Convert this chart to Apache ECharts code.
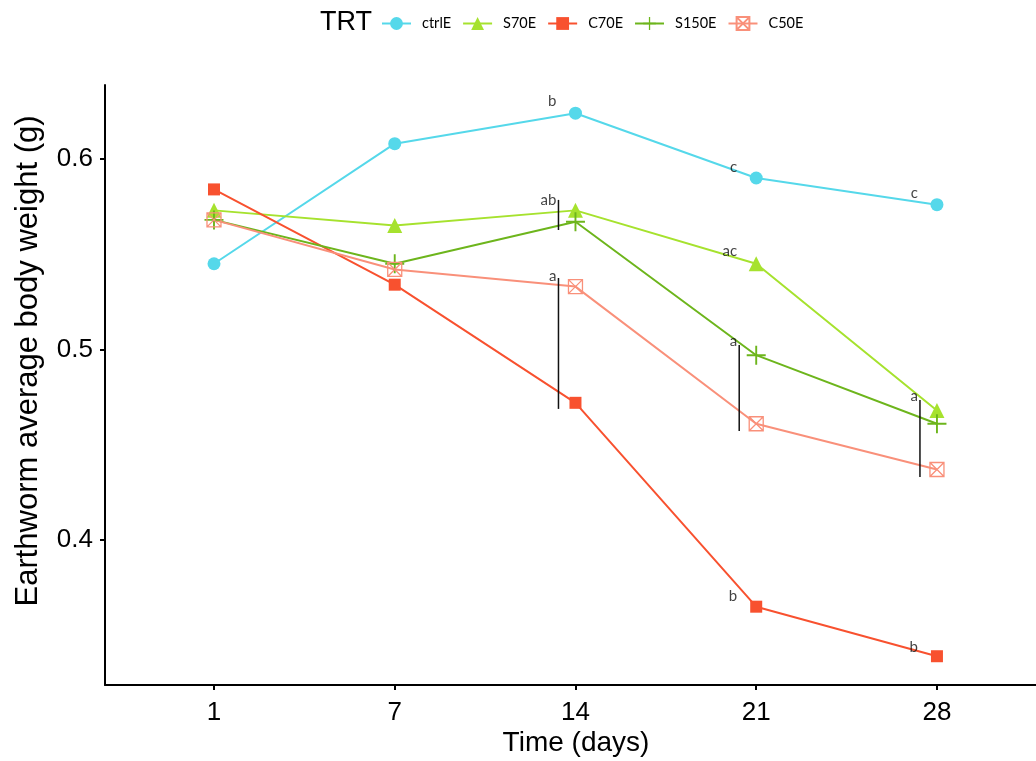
<!DOCTYPE html>
<html>
<head>
<meta charset="utf-8">
<script src="https://cdn.jsdelivr.net/npm/echarts@6/dist/echarts.min.js"></script>
<style>
  html, body { margin: 0; padding: 0; background: #fff; }
  #main { width: 1036px; height: 761px; }
</style>
</head>
<body>
<div id="main"></div>
<script>
var days = ['1', '7', '14', '21', '28'];
var ctrlE = [0.545, 0.608, 0.624, 0.590, 0.576];
var s70E = [0.573, 0.565, 0.573, 0.545, 0.468];
var c70E = [0.584, 0.534, 0.472, 0.365, 0.339];
var s150E = [0.568, 0.545, 0.567, 0.497, 0.461];
var c50E = [0.568, 0.542, 0.533, 0.461, 0.437];

// significance letters: day index, height, text
var letterDay = [2, 2, 2, 3, 3, 3, 3, 4, 4, 4];
var letterY = [0.6304, 0.5785, 0.5386, 0.5958, 0.5517, 0.5045, 0.3706, 0.5822, 0.4756, 0.3438];
var letterText = ['b', 'ab', 'a', 'c', 'ac', 'a', 'b', 'c', 'a', 'b'];

// black range bars: day index, low, high
var barDay = [2, 2, 3, 4];
var barLow = [0.5627, 0.4688, 0.4572, 0.4331];
var barHigh = [0.5785, 0.5375, 0.5024, 0.4735];

var chart = echarts.init(document.getElementById('main'));

function pts(arr) {
  return arr.map(function (v, i) { return [i, v]; });
}

var plusPath = 'path://M0,4.5 H10 V5.5 H0 Z M4.5,0 H5.5 V10 H4.5 Z';
var boxXPath = 'path://M0,0 L10,0 L10,10 L0,10 Z M0,0 L10,10 M10,0 L0,10';

function lineSeries(name, data, color, symbol, size, extra) {
  var s = {
    name: name,
    type: 'line',
    data: pts(data),
    symbol: symbol,
    symbolSize: size,
    color: color,
    lineStyle: { color: color, width: 2 },
    itemStyle: { color: color },
    emphasis: { disabled: true },
    z: 3
  };
  if (extra) Object.assign(s, extra);
  return s;
}

var letterData = letterText.map(function (t, i) {
  return { value: [letterDay[i], letterY[i]], label: { formatter: t } };
});
var barData = barDay.map(function (d, i) { return [d, barLow[i], barHigh[i]]; });

var option = {
  animation: false,
  textStyle: { fontFamily: 'Liberation Sans' },
  grid: { left: 105, right: 0, top: 85, bottom: 76 },
  legend: {
    data: ['ctrlE', 'S70E', 'C70E', 'S150E', 'C50E'],
    left: 381,
    top: 16,
    padding: 0,
    itemWidth: 29,
    itemHeight: 16,
    itemGap: 11,
    textStyle: { fontFamily: 'Lato', fontSize: 14.5, color: '#000', padding: [0, 0, 0, 6] }
  },
  graphic: [
    { type: 'text', left: 320, top: 9, style: { text: 'TRT', font: '27px Liberation Sans', fill: '#000' } },
    { type: 'text', x: 28, y: 361, rotation: Math.PI / 2,
      style: { text: 'Earthworm average body weight (g)', font: '31px Liberation Sans', fill: '#000', align: 'center', verticalAlign: 'middle' } },
    { type: 'text', x: 576, y: 743,
      style: { text: 'Time (days)', font: '28px Liberation Sans', fill: '#000', align: 'center', verticalAlign: 'middle' } }
  ],
  xAxis: {
    type: 'value',
    min: -0.603,
    max: 4.548,
    splitLine: { show: false },
    axisLine: { onZero: false, lineStyle: { color: '#000', width: 2 } },
    axisTick: { show: true, length: 5, lineStyle: { color: '#000', width: 2 }, customValues: [0, 1, 2, 3, 4] },
    axisLabel: {
      customValues: [0, 1, 2, 3, 4],
      formatter: function (v) { return days[Math.round(v)]; },
      fontSize: 26, color: '#000', margin: 15
    }
  },
  yAxis: {
    type: 'value',
    min: 0.3239,
    max: 0.6388,
    splitLine: { show: false },
    axisLine: { show: true, onZero: false, lineStyle: { color: '#000', width: 2 } },
    axisTick: { show: true, length: 5, lineStyle: { color: '#000', width: 2 }, customValues: [0.4, 0.5, 0.6] },
    axisLabel: {
      customValues: [0.4, 0.5, 0.6],
      formatter: function (v) { return v.toFixed(1); },
      fontSize: 26, color: '#000', margin: 12
    }
  },
  series: [
    lineSeries('ctrlE', ctrlE, '#55D8EA', 'circle', 13),
    lineSeries('S70E', s70E, '#A6E22E', 'triangle', 15),
    lineSeries('C70E', c70E, '#F8512F', 'rect', 12),
    lineSeries('S150E', s150E, '#6DB51C', plusPath, 19),
    lineSeries('C50E', c50E, '#F9907A', boxXPath, 14, {
      itemStyle: { color: 'rgba(0,0,0,0)', borderColor: '#F9907A', borderWidth: 1.3 }
    }),
    {
      type: 'custom',
      silent: true,
      z: 4,
      data: barData,
      renderItem: function (params, api) {
        var p1 = api.coord([api.value(0), api.value(1)]);
        var p2 = api.coord([api.value(0), api.value(2)]);
        return {
          type: 'line',
          shape: { x1: p1[0] - 17, y1: p1[1], x2: p2[0] - 17, y2: p2[1] },
          style: { stroke: '#111', lineWidth: 1.5 }
        };
      }
    },
    {
      type: 'scatter',
      silent: true,
      symbolSize: 0,
      z: 5,
      data: letterData,
      label: {
        show: true,
        position: [0, 0],
        align: 'right',
        verticalAlign: 'middle',
        offset: [-19, 0],
        fontFamily: 'Lato',
        fontSize: 15,
        color: '#111'
      }
    }
  ]
};

chart.setOption(option);
</script>
</body>
</html>
